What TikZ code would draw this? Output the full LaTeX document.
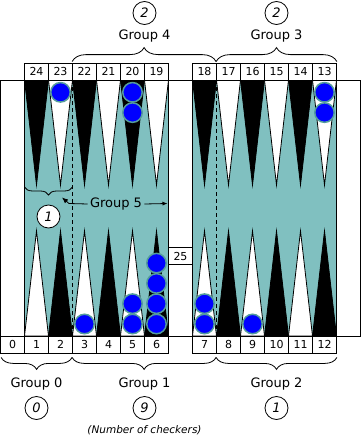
\documentclass[tikz,border=0pt]{standalone}
\usepackage{fontspec}
\setmainfont{DejaVu Sans}
\usepackage{tikz}
\usetikzlibrary{calc,shapes,arrows.meta,decorations.pathreplacing}
\definecolor{felt}{RGB}{128,192,192}
\definecolor{rim}{RGB}{84,156,156}
\definecolor{chipblue}{RGB}{0,0,255}
\tikzstyle{numbox}=[rectangle,draw=black,fill=white,font=\fontsize{11}{12}\selectfont,
                    minimum width=24pt,minimum height=17pt,inner sep=0pt]
\tikzstyle{grouplabel}=[font=\fontsize{13}{15}\selectfont,inner sep=2pt]
\tikzstyle{countring}=[circle,draw=black,fill=white,font=\fontsize{13}{15}\selectfont\itshape,
                       minimum size=23pt,inner sep=0pt]
\tikzstyle{checker}=[circle,draw=rim,fill=chipblue,line width=1.5pt,
                     minimum size=19.5pt,inner sep=0pt]
\tikzstyle{groupbrace}=[decorate,decoration={brace,amplitude=14pt}]
\newcommand\chipgap{20.3}

\begin{document}
\begin{tikzpicture}[x=1pt,y=-1pt,line width=0.8pt]
    \useasboundingbox (0,0) rectangle (361,439);
    % board and the two halves
    \draw [fill=white] (0.5,80) rectangle (360.5,336);
    \draw [fill=felt] (24.5,80) rectangle (168.5,336);
    \draw [fill=felt] (192.5,80) rectangle (336.5,336);
    % points
    \foreach \x in {24.5,72.5,120.5,192.5,240.5,288.5} {
        \filldraw [fill=black] (\x,80) -- (\x+12,185) -- (\x+24,80) -- cycle;
        \filldraw [fill=white] (\x+24,80) -- (\x+36,185) -- (\x+48,80) -- cycle;
        \filldraw [fill=white] (\x,336) -- (\x+12,231) -- (\x+24,336) -- cycle;
        \filldraw [fill=black] (\x+24,336) -- (\x+36,231) -- (\x+48,336) -- cycle;
    }
    \draw [dash pattern=on 4pt off 3pt] (72.5,80) -- (72.5,336);
    \draw [dash pattern=on 4pt off 3pt] (216.5,80) -- (216.5,336);
    % checkers
    \foreach \x/\y/\name in {60.5/92.3/c23a, 132.5/92.3/c20a, 132.5/112.6/c20b,
                             324.5/92.3/c13a, 324.5/112.6/c13b}
        \node [checker] (\name) at (\x,\y) {};
    \foreach \x/\k/\name in {84.5/0/c3a, 132.5/0/c5a, 132.5/1/c5b,
                             156.5/0/c6a, 156.5/1/c6b, 156.5/2/c6c, 156.5/3/c6d,
                             204.5/0/c7a, 204.5/1/c7b, 252.5/0/c9a}
        \node [checker] (\name) at ($(\x,324)-(0,\chipgap*\k)$) {};
    % point numbers
    \foreach \n [count=\i from 0] in {24,23,22,21,20,19}
        \node [numbox] (p\n) at ($(36.5,71.5)+(24*\i,0)$) {\n};
    \foreach \n [count=\i from 0] in {18,17,16,15,14,13}
        \node [numbox] (p\n) at ($(204.5,71.5)+(24*\i,0)$) {\n};
    \node [numbox] (p0) at (12.5,344.5) {0};
    \foreach \n [count=\i from 0] in {1,2,3,4,5,6}
        \node [numbox] (p\n) at ($(36.5,344.5)+(24*\i,0)$) {\n};
    \foreach \n [count=\i from 0] in {7,8,9,10,11,12}
        \node [numbox] (p\n) at ($(204.5,344.5)+(24*\i,0)$) {\n};
    \node [numbox] (p25) at (180.5,256) {25};
    % groups above
    \draw [groupbrace] ($(p22.north west)+(0,-1)$) -- ($(p17.north west)+(0,-1)$);
    \draw [groupbrace] ($(p17.north west)+(0,-1)$) -- ($(p13.north east)+(0,-1)$);
    \node [grouplabel] (Group 4) at (144.5,36) {Group 4};
    \node [grouplabel] (Group 3) at (276.5,36) {Group 3};
    \node [countring] (n4) at (144.5,13) {2};
    \node [countring] (n3) at (276.5,13) {2};
    % groups below
    \draw [groupbrace,decoration={amplitude=12pt}] ($(p3.south west)+(0,4)$) -- ($(p0.south west)+(1,4)$);
    \draw [groupbrace,decoration={amplitude=12pt}] ($(p8.south west)+(0,4)$) -- ($(p3.south west)+(0,4)$);
    \draw [groupbrace,decoration={amplitude=12pt}] ($(p12.south east)+(0,4)$) -- ($(p8.south west)+(0,4)$);
    \node [grouplabel] (Group 0) at (36.5,384.5) {Group 0};
    \node [grouplabel] (Group 1) at (144.5,384.5) {Group 1};
    \node [grouplabel] (Group 2) at (276.5,384.5) {Group 2};
    \node [countring] (n0) at (36.5,408) {0};
    \node [countring] (n1) at (144.5,408) {9};
    \node [countring] (n2) at (276.5,408) {1};
    \node [font=\fontsize{10.5}{12}\selectfont\itshape] (legend) at (144.5,430) {(Number of checkers)};
    % group 5
    \coordinate (g5l) at (24.5,187);
    \coordinate (g5r) at (72.5,187);
    \coordinate (g5bend) at (69,203.5);
    \coordinate (g5tip) at (62,197.5);
    \coordinate (g5edge) at (167.5,203.5);
    \draw [groupbrace,decoration={amplitude=8pt}] (g5r) -- (g5l);
    \node [grouplabel] (Group 5) at (116,204) {Group 5};
    \draw [-{Latex[length=6pt,width=5pt]}] (Group 5.west) -- (g5bend) -- (g5tip);
    \draw [-{Latex[length=5pt,width=4pt]}] (Group 5.east) -- (g5edge);
    \node [countring] (n5) at (48.5,216.5) {1};
\end{tikzpicture}
\end{document}
